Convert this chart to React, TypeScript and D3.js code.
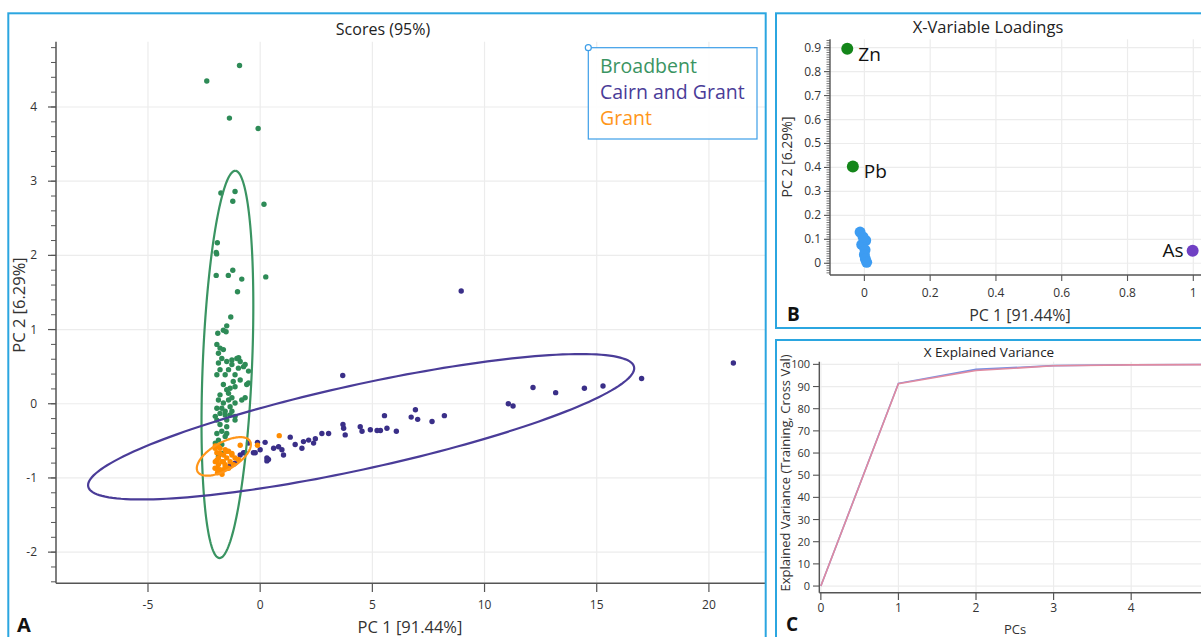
import * as d3 from 'd3'

// ---- Panel A: scores (PC1, PC2) ----
const broadbent: [number, number][] = [
  [-2.38, 4.35], [-0.92, 4.56], [-1.37, 3.85], [-0.09, 3.71], [-1.75, 2.84], [-1.12, 2.86],
  [-1.22, 2.73], [0.17, 2.69], [-1.91, 2.17], [-1.96, 2.04], [-1.94, 2.02], [-1.96, 1.73],
  [-1.42, 1.73], [-1.22, 1.8], [-0.82, 1.68], [0.25, 1.71], [-1.01, 1.51], [-1.31, 1.17],
  [-1.49, 1.05], [-1.64, 0.99], [-1.89, 0.95], [-1.52, 0.97], [-1.79, 0.75], [-1.64, 0.73],
  [-1.86, 0.68], [-1.71, 0.61], [-1.86, 0.55], [-1.49, 0.57], [-1.26, 0.59], [-1.04, 0.61],
  [-0.89, 0.57], [-0.74, 0.5], [-0.52, 0.44], [-0.97, 0.48], [-1.26, 0.53], [-1.41, 0.46],
  [-1.56, 0.39], [-1.93, 0.39], [-1.79, 0.46], [-1.12, 0.39], [-0.89, 0.32], [-0.6, 0.26],
  [-1.12, 0.23], [-1.34, 0.21], [-1.64, 0.26], [-1.49, 0.19], [-1.79, 0.12], [-1.86, 0.05],
  [-1.64, 0.01], [-1.41, 0.05], [-1.71, -0.06], [-1.93, -0.06], [-1.79, -0.13], [-1.56, -0.15],
  [-1.34, -0.15], [-1.12, -0.17], [-1.49, -0.22], [-1.93, -0.22], [-1.79, -0.28], [-1.49, -0.31],
  [-1.71, -0.37], [-1.93, -0.4], [-1.49, -0.4], [-1.86, -0.49], [-1.93, 0.8], [-0.96, 0.62],
  [-0.67, 0.53], [-0.52, 0.28], [-0.67, 0.08], [-1.34, -0.04], [-1.56, -0.1], [-1.26, 0.08],
  [-0.82, 0.05], [-1.12, 0.01], [-2.0, -0.17], [-1.12, -0.22], [-1.56, -0.44], [-2.0, -0.53],
  [-1.71, -0.55], [-1.71, -0.67], [-1.86, -0.71], [-1.41, 0.14], [-1.26, -0.1], [-1.2, 0.3]
]

const cairnGrant: [number, number][] = [
  [8.96, 1.52], [3.68, 0.38], [21.09, 0.55], [17.0, 0.34], [15.28, 0.24], [14.45, 0.21],
  [13.17, 0.15], [12.16, 0.22], [11.27, -0.03], [11.06, 0.0], [8.21, -0.16], [7.66, -0.24],
  [7.02, -0.21], [6.92, -0.08], [6.73, -0.18], [6.07, -0.37], [5.65, -0.33], [5.54, -0.16],
  [5.36, -0.36], [5.21, -0.36], [4.91, -0.35], [4.54, -0.37], [4.46, -0.31], [3.79, -0.42],
  [3.72, -0.33], [3.69, -0.28], [3.05, -0.4], [2.75, -0.4], [2.46, -0.47], [2.38, -0.53],
  [2.16, -0.49], [1.93, -0.51], [1.86, -0.6], [1.56, -0.55], [1.34, -0.45], [1.04, -0.69],
  [0.97, -0.62], [0.82, -0.58], [0.6, -0.6], [0.37, -0.75], [0.3, -0.73], [0.22, -0.52],
  [0.0, -0.62], [-0.12, -0.52], [-0.3, -0.66], [-0.22, -0.66], [-0.52, -0.53], [-0.74, -0.66],
  [-0.89, -0.69], [-1.12, -0.8], [-1.34, -0.84], [0.3, -0.77], [-0.67, -0.66]
]

const grant: [number, number][] = [
  [0.85, -0.43], [-0.12, -0.56], [-0.89, -0.56], [-2.0, -0.57], [-1.79, -0.6], [-1.56, -0.62],
  [-1.93, -0.66], [-1.63, -0.69], [-1.41, -0.64], [-1.26, -0.69], [-1.86, -0.73], [-1.49, -0.73],
  [-1.12, -0.73], [-2.0, -0.78], [-1.71, -0.78], [-1.34, -0.78], [-0.97, -0.75], [-1.86, -0.82],
  [-1.56, -0.82], [-1.19, -0.82], [-1.93, -0.87], [-1.63, -0.89], [-1.41, -0.87], [-2.01, -0.6],
  [-1.79, -0.67], [-1.49, -0.64], [-1.26, -0.67], [-1.93, -0.76], [-1.64, -0.78], [-2.01, -0.87],
  [-1.79, -0.89], [-1.56, -0.85], [-1.86, -0.58], [-1.7, -0.95], [-1.9, -0.93]
]

// 95% ellipses: center, conjugate semi-axis (to top point), horizontal half-width
const ellipseCenters: [number, number][] = [[-1.46, 0.53], [4.5, -0.31], [-1.62, -0.71]]
const ellipseTops: [number, number][] = [[0.35, 2.61], [9.79, 0.98], [0.74, 0.26]]
const ellipseHalfWidths = [1.1, 7.23, 0.95]

const groupNames = ['Broadbent', 'Cairn and Grant', 'Grant']
const pointColors = ['#2e8b57', '#3a2f88', '#ff8c00']
const ellipseColors = ['#3a9462', '#4a3c98', '#ff961a']

const xTicksA = [-5, 0, 5, 10, 15, 20]
const yTicksA = [-2, -1, 0, 1, 2, 3, 4]

// ---- Panel B: loadings ----
const loadNames = ['Zn', 'Pb', 'As']
const loadX = [-0.052, -0.035, 0.998]
const loadY = [0.896, 0.404, 0.052]
const loadColors = ['#14861a', '#14861a', '#7040c4']
const otherLoadX = [-0.013, 0.004, -0.008, 0.002, 0.0, 0.003, 0.007, -0.004]
const otherLoadY = [0.13, 0.095, 0.078, 0.056, 0.036, 0.018, 0.004, 0.11]
const xTicksB = [0, 0.2, 0.4, 0.6, 0.8, 1]
const yTicksB = [0, 0.1, 0.2, 0.3, 0.4, 0.5, 0.6, 0.7, 0.8, 0.9]

// ---- Panel C: explained variance ----
const pcs = [0, 1, 2, 3, 4, 5]
const training = [0, 91.44, 97.73, 99.45, 99.8, 99.95]
const crossVal = [0, 91.3, 97.2, 99.35, 99.75, 99.9]
const yTicksC = [0, 10, 20, 30, 40, 50, 60, 70, 80, 90, 100]
const xTicksC = [0, 1, 2, 3, 4]

const FONT = '"Open Sans", "Noto Sans", sans-serif'
const BORDER = '#2ba6e0'
const GRID = '#ececec'
const AXIS = '#555'
const TICKTXT = '#333'

function ellipsePath(i: number, x: d3.ScaleLinear<number, number>, y: d3.ScaleLinear<number, number>) {
  const [cx, cy] = ellipseCenters[i]
  const [ux, uy] = ellipseTops[i]
  const vx = ellipseHalfWidths[i]
  const ts = d3.range(0, 2 * Math.PI + 0.01, Math.PI / 90)
  return d3.line<number>()
    .x(t => x(cx + ux * Math.cos(t) + vx * Math.sin(t)))
    .y(t => y(cy + uy * Math.cos(t)))(ts) as string
}

export default function App() {
  const W = 1201
  const H = 637

  // Panel A scales
  const xA = d3.scaleLinear().domain([-9.1, 22.5]).range([56, 765])
  const yA = d3.scaleLinear().domain([-2.42, 4.88]).range([583.3, 41.7])
  const minorA = d3.range(-2.4, 4.81, 0.2)

  // Panel B scales
  const xB = d3.scaleLinear().domain([-0.1045, 1.0234]).range([830, 1201])
  const yB = d3.scaleLinear().domain([-0.049, 0.935]).range([275, 39.3])
  const minorB = d3.range(-0.04, 0.931, 0.01)

  // Panel C scales
  const xC = d3.scaleLinear().domain([-0.02, 4.9]).range([819.3, 1201])
  const yC = d3.scaleLinear().domain([-3, 101.2]).range([592.7, 361.7])
  const lineC = (vals: number[]) =>
    d3.line<number>().x((_, i) => xC(pcs[i])).y(v => yC(v))(vals) as string

  const groups = [broadbent, cairnGrant, grant]

  return (
    <svg width={W} height={H} style={{ position: 'absolute', left: 0, top: 0, background: '#fff' }}
      fontFamily={FONT}>
      <rect x={0} y={0} width={W} height={H} fill="#fff" />

      {/* ===== Panel A ===== */}
      <g>
        {xTicksA.map(t => (
          <line key={'gxa' + t} x1={xA(t)} x2={xA(t)} y1={yA(4.88)} y2={yA(-2.42)} stroke={GRID} strokeWidth={1.2} />
        ))}
        {yTicksA.map(t => (
          <line key={'gya' + t} x1={xA(-9.1)} x2={xA(22.5)} y1={yA(t)} y2={yA(t)} stroke={GRID} strokeWidth={1.2} />
        ))}
        {/* axes */}
        <line x1={56} x2={56} y1={yA(4.88)} y2={yA(-2.42)} stroke={AXIS} strokeWidth={1.5} />
        <line x1={56} x2={765} y1={yA(-2.42)} y2={yA(-2.42)} stroke={AXIS} strokeWidth={1.5} />
        {minorA.map((t, i) => (
          <line key={'mya' + i} x1={51} x2={56} y1={yA(t)} y2={yA(t)} stroke={AXIS} strokeWidth={1} />
        ))}
        {yTicksA.map(t => (
          <g key={'tya' + t}>
            <line x1={48} x2={56} y1={yA(t)} y2={yA(t)} stroke={AXIS} strokeWidth={1.2} />
            <text x={37} y={yA(t) + 4} textAnchor="end" fontSize={12} fill={TICKTXT}>{t}</text>
          </g>
        ))}
        {xTicksA.map(t => (
          <g key={'txa' + t}>
            <line x1={xA(t)} x2={xA(t)} y1={583.3} y2={592} stroke={AXIS} strokeWidth={1.2} />
            <text x={xA(t)} y={609} textAnchor="middle" fontSize={12} fill={TICKTXT}>{t}</text>
          </g>
        ))}

        {/* points */}
        {groups.map((pts, gi) => (
          <g key={'grp' + gi}>
            {pts.map((p, i) => (
              <circle key={i} cx={xA(p[0])} cy={yA(p[1])} r={2.7} fill={pointColors[gi]} />
            ))}
          </g>
        ))}
        {/* ellipses */}
        {groupNames.map((n, i) => (
          <path key={'el' + n} d={ellipsePath(i, xA, yA)} fill="none" stroke={ellipseColors[i]} strokeWidth={2.2} />
        ))}

        {/* legend */}
        <rect x={588.3} y={47.7} width={168.7} height={91.3} fill="#fff" fillOpacity={0.9} stroke="#3d9ee8" strokeWidth={1.2} />
        <circle cx={588.3} cy={47.7} r={3} fill="#fff" stroke="#3d9ee8" strokeWidth={1.2} />
        {groupNames.map((n, i) => (
          <text key={'lg' + n} x={600} y={72.7 + i * 26.3} fontSize={19.5} fill={i === 1 ? '#4a3c98' : ellipseColors[i]}>{n}</text>
        ))}

        <text x={383} y={35} textAnchor="middle" fontSize={16} fill="#222">Scores (95%)</text>
        <text x={410} y={633} textAnchor="middle" fontSize={16.5} fill="#333">PC 1 [91.44%]</text>
        <text transform={`translate(25,305) rotate(-90)`} textAnchor="middle" fontSize={16.5} fill="#333">PC 2 [6.29%]</text>
        <text x={17} y={632} fontSize={20} fontWeight="bold" fill="#111">A</text>
        <rect x={8.3} y={13.3} width={757.4} height={650} fill="none" stroke={BORDER} strokeWidth={2} />
      </g>

      {/* ===== Panel B ===== */}
      <g>
        {xTicksB.map(t => (
          <line key={'gxb' + t} x1={xB(t)} x2={xB(t)} y1={39.3} y2={275} stroke={GRID} strokeWidth={1.2} />
        ))}
        {yTicksB.map(t => (
          <line key={'gyb' + t} x1={830} x2={1201} y1={yB(t)} y2={yB(t)} stroke={GRID} strokeWidth={1.2} />
        ))}
        <line x1={830} x2={830} y1={39.3} y2={275} stroke={AXIS} strokeWidth={1.4} />
        <line x1={830} x2={1201} y1={275} y2={275} stroke={AXIS} strokeWidth={1.4} />
        {minorB.map((t, i) => (
          <line key={'myb' + i} x1={826.5} x2={830} y1={yB(t)} y2={yB(t)} stroke={AXIS} strokeWidth={0.8} />
        ))}
        {yTicksB.map(t => (
          <g key={'tyb' + t}>
            <line x1={824} x2={830} y1={yB(t)} y2={yB(t)} stroke={AXIS} strokeWidth={1.1} />
            <text x={821} y={yB(t) + 4} textAnchor="end" fontSize={12} fill={TICKTXT}>{t}</text>
          </g>
        ))}
        {xTicksB.map(t => (
          <g key={'txb' + t}>
            <line x1={xB(t)} x2={xB(t)} y1={275} y2={281} stroke={AXIS} strokeWidth={1.1} />
            <text x={xB(t)} y={297} textAnchor="middle" fontSize={12} fill={TICKTXT}>{t}</text>
          </g>
        ))}
        {otherLoadX.map((v, i) => (
          <circle key={'ol' + i} cx={xB(v)} cy={yB(otherLoadY[i])} r={5.5} fill="#3d9cf2" />
        ))}
        {loadNames.map((n, i) => (
          <circle key={'ld' + n} cx={xB(loadX[i])} cy={yB(loadY[i])} r={6} fill={loadColors[i]} />
        ))}
        {loadNames.map((n, i) => (
          <text key={'lt' + n}
            x={i === 2 ? xB(loadX[i]) - 9 : xB(loadX[i]) + 11}
            y={yB(loadY[i]) + (i === 2 ? 6 : 12)}
            textAnchor={i === 2 ? 'end' : 'start'} fontSize={19} fill="#111">{n}</text>
        ))}
        <text x={988} y={33} textAnchor="middle" fontSize={16.5} fill="#222">X-Variable Loadings</text>
        <text x={1020} y={321} textAnchor="middle" fontSize={16} fill="#333">PC 1 [91.44%]</text>
        <text transform={`translate(792,157) rotate(-90)`} textAnchor="middle" fontSize={14} fill="#333">PC 2 [6.29%]</text>
        <text x={787} y={321} fontSize={19} fontWeight="bold" fill="#111">B</text>
        <rect x={776} y={13.3} width={440} height={314.7} fill="none" stroke={BORDER} strokeWidth={2} />
      </g>

      {/* ===== Panel C ===== */}
      <g>
        {xTicksC.map(t => (
          <line key={'gxc' + t} x1={xC(t)} x2={xC(t)} y1={361.7} y2={592.7} stroke={GRID} strokeWidth={1.2} />
        ))}
        {yTicksC.map(t => (
          <line key={'gyc' + t} x1={819.3} x2={1201} y1={yC(t)} y2={yC(t)} stroke={GRID} strokeWidth={1.2} />
        ))}
        <line x1={819.3} x2={819.3} y1={361.7} y2={592.7} stroke={AXIS} strokeWidth={1.4} />
        <line x1={819.3} x2={1201} y1={592.7} y2={592.7} stroke={AXIS} strokeWidth={1.4} />
        {yTicksC.map(t => (
          <g key={'tyc' + t}>
            <line x1={813} x2={819.3} y1={yC(t)} y2={yC(t)} stroke={AXIS} strokeWidth={1.1} />
            <text x={810} y={yC(t) + 4} textAnchor="end" fontSize={11} fill={TICKTXT}>{t}</text>
          </g>
        ))}
        {xTicksC.map(t => (
          <g key={'txc' + t}>
            <line x1={xC(t)} x2={xC(t)} y1={592.7} y2={600} stroke={AXIS} strokeWidth={1.2} />
            <text x={xC(t)} y={612} textAnchor="middle" fontSize={12} fill={TICKTXT}>{t}</text>
          </g>
        ))}
        <path d={lineC(training)} fill="none" stroke="#7b8fe0" strokeWidth={1.6} />
        <path d={lineC(crossVal)} fill="none" stroke="#e08aa0" strokeWidth={1.6} />
        <text x={989} y={357} textAnchor="middle" fontSize={13.5} fill="#222">X Explained Variance</text>
        <text x={1015} y={634} textAnchor="middle" fontSize={13} fill="#333">PCs</text>
        <text transform={`translate(790,473) rotate(-90)`} textAnchor="middle" fontSize={13} fill="#333">Explained Variance (Training, Cross Val)</text>
        <text x={786} y={631} fontSize={19} fontWeight="bold" fill="#111">C</text>
        <rect x={776} y={340} width={440} height={320} fill="none" stroke={BORDER} strokeWidth={2} />
      </g>
    </svg>
  )
}
